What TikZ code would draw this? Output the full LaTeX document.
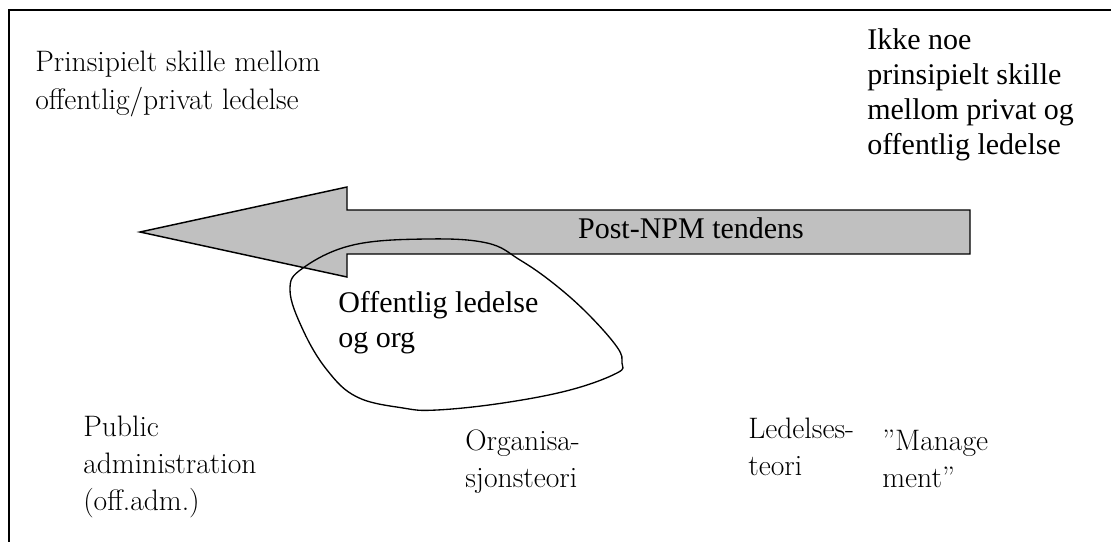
\documentclass[tikz,border=0pt]{standalone}
\usepackage{fontspec}
\newfontfamily\tmsfont{Liberation Serif}
\newcommand{\lns}[1]{\begin{tabular}[t]{@{}l@{}}#1\end{tabular}}
\definecolor{arrowgray}{HTML}{C0C0C0}
\begin{document}
\begin{tikzpicture}[x=0.75pt,y=-0.75pt,
  gtext/.style={anchor=base west, inner sep=0pt, font=\fontsize{22.2}{27.75}\selectfont},
  ttext/.style={anchor=base west, inner sep=0pt, font=\tmsfont\fontsize{22.5}{26.25}\selectfont},
  frameline/.style={line width=1.5pt},
  bigarrow/.style={draw=black, line width=1.1pt, fill=arrowgray, line join=miter},
  blob/.style={draw=black, line width=1pt}]
\useasboundingbox (0,0) rectangle (1111,542);
% frame
\coordinate (fbl) at (9,542);
\coordinate (ftl) at (9,10);
\coordinate (ftr) at (1111,10);
\draw[frameline] (fbl) -- (ftl) -- (ftr);
% big arrow
\draw[bigarrow] (140,232) -- (347,187) -- (347,210) -- (970,210) -- (970,254)
  -- (347,254) -- (347,277) -- cycle;
\node[ttext, anchor=base] (post) at (691,238) {Post-NPM tendens};
% blob
\draw[blob] plot[smooth cycle, tension=0.65] coordinates {
  (427,239) (487,243) (520,260) (553,283) (587,313) (617,347) (622,363)
  (617,373) (570,390) (503,403) (437,410) (403,408) (357,397) (327,370)
  (303,330) (290,290) (303,268) (353,245)};
% texts
\node[gtext, font=\fontsize{22.2}{28.5}\selectfont] (tl) at (35,72) {\lns{Prinsipielt skille mellom\\offentlig/privat ledelse}};
\node[ttext] (tr) at (867,50) {\lns{Ikke noe\\prinsipielt skille\\mellom privat og\\offentlig ledelse}};
\node[ttext] (off) at (338,312) {\lns{Offentlig ledelse\\og org}};
\node[gtext] (pub) at (83,436) {\lns{Public\\administration\\(off.adm.)}};
\node[gtext] (org) at (465,450) {\lns{Organisa-\\sjonsteori}};
\node[gtext] (led) at (748,438) {\lns{Ledelses-\\teori}};
\node[gtext] (man) at (882,450) {\lns{”Manage\\ment”}};
\end{tikzpicture}
\end{document}
